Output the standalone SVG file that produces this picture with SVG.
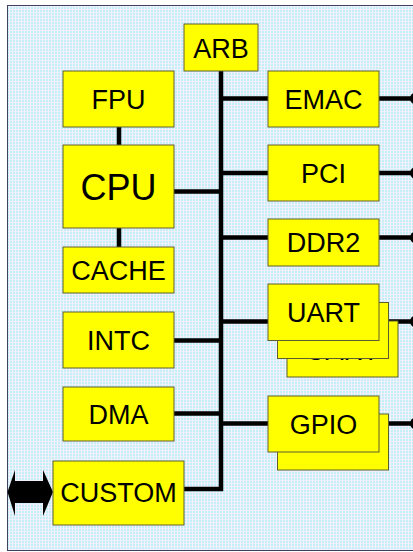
<svg xmlns="http://www.w3.org/2000/svg" width="413" height="552" viewBox="0 0 413 552">
<defs>
<pattern id="bg" width="3" height="3" patternUnits="userSpaceOnUse">
<rect width="3" height="3" fill="#c2f0f6"/>
<rect width="3" height="1" fill="#eeeefc"/>
<rect width="1" height="3" fill="#f4f0fc"/>
</pattern>
<style>
.box{fill:#ffff00;stroke:#5e5e30;stroke-width:1}
.lbl{font-family:"Liberation Sans",Arial,sans-serif;font-size:27px;fill:#000;text-anchor:middle}
.w{stroke:#000;stroke-width:4.5;fill:none}
</style>
</defs>
<rect x="0" y="0" width="413" height="552" fill="#ffffff"/>
<rect x="7.5" y="5.5" width="420" height="545" fill="url(#bg)" stroke="#404060" stroke-width="1"/>
<g id="connectors">
<polyline class="w" points="221,71 221,489 184,489"/>
<line class="w" x1="221" y1="98.5" x2="268" y2="98.5"/>
<line class="w" x1="221" y1="173" x2="268" y2="173"/>
<line class="w" x1="221" y1="237.5" x2="268" y2="237.5"/>
<line class="w" x1="221" y1="321.5" x2="268" y2="321.5"/>
<line class="w" x1="221" y1="423.5" x2="268" y2="423.5"/>
<line class="w" x1="174" y1="191.5" x2="221" y2="191.5"/>
<line class="w" x1="174" y1="340.5" x2="221" y2="340.5"/>
<line class="w" x1="174" y1="413.5" x2="221" y2="413.5"/>
<line class="w" x1="119" y1="127" x2="119" y2="145"/>
<line class="w" x1="119" y1="228" x2="119" y2="247"/>
<line class="w" x1="379" y1="98.5" x2="413" y2="98.5"/>
<line class="w" x1="379" y1="173" x2="413" y2="173"/>
<line class="w" x1="379" y1="237.5" x2="413" y2="237.5"/>
<line class="w" x1="379" y1="321.5" x2="413" y2="321.5"/>
<line class="w" x1="379" y1="423.5" x2="413" y2="423.5"/>
<circle cx="416" cy="98.5" r="6"/>
<circle cx="416" cy="173" r="6"/>
<circle cx="416" cy="237.5" r="6"/>
<circle cx="416" cy="321.5" r="6"/>
<circle cx="416" cy="423.5" r="6"/>
<polygon points="7.5,492 15,470 15,481 43,481 43,470 53,492 43,516 43,503 15,503 15,516" fill="#000"/>
</g>
<g id="arb"><rect class="box" x="184" y="24" width="74" height="47"/><text class="lbl" x="221" y="57.5">ARB</text></g>
<g id="fpu"><rect class="box" x="63" y="71" width="111" height="56"/><text class="lbl" x="118.5" y="109">FPU</text></g>
<g id="cpu"><rect class="box" x="63" y="145" width="111" height="83"/><text class="lbl" x="118.5" y="200" style="font-size:36px">CPU</text></g>
<g id="cache"><rect class="box" x="63" y="247" width="111" height="46"/><text class="lbl" x="118.5" y="280">CACHE</text></g>
<g id="intc"><rect class="box" x="63" y="312" width="111" height="56"/><text class="lbl" x="118.5" y="350">INTC</text></g>
<g id="dma"><rect class="box" x="63" y="387" width="111" height="54"/><text class="lbl" x="118.5" y="423.5">DMA</text></g>
<g id="custom"><rect class="box" x="53" y="461" width="131" height="64"/><text class="lbl" x="118.5" y="502">CUSTOM</text></g>
<g id="emac"><rect class="box" x="268" y="71" width="111" height="56"/><text class="lbl" x="323.5" y="109">EMAC</text></g>
<g id="pci"><rect class="box" x="268" y="145" width="111" height="56"/><text class="lbl" x="323.5" y="183">PCI</text></g>
<g id="ddr2"><rect class="box" x="268" y="219" width="111" height="47"/><text class="lbl" x="323.5" y="252">DDR2</text></g>
<g id="uart">
<rect class="box" x="287" y="321" width="111" height="56"/><text class="lbl" x="342.5" y="360">UART</text>
<rect class="box" x="277.5" y="302.5" width="111" height="56"/>
<rect class="box" x="268" y="284" width="111" height="56.5"/><text class="lbl" x="323.5" y="322.3">UART</text>
</g>
<g id="gpio">
<rect class="box" x="277.5" y="414" width="111" height="56"/>
<rect class="box" x="268" y="396" width="111" height="56"/><text class="lbl" x="323.5" y="433.5">GPIO</text>
</g>
</svg>
